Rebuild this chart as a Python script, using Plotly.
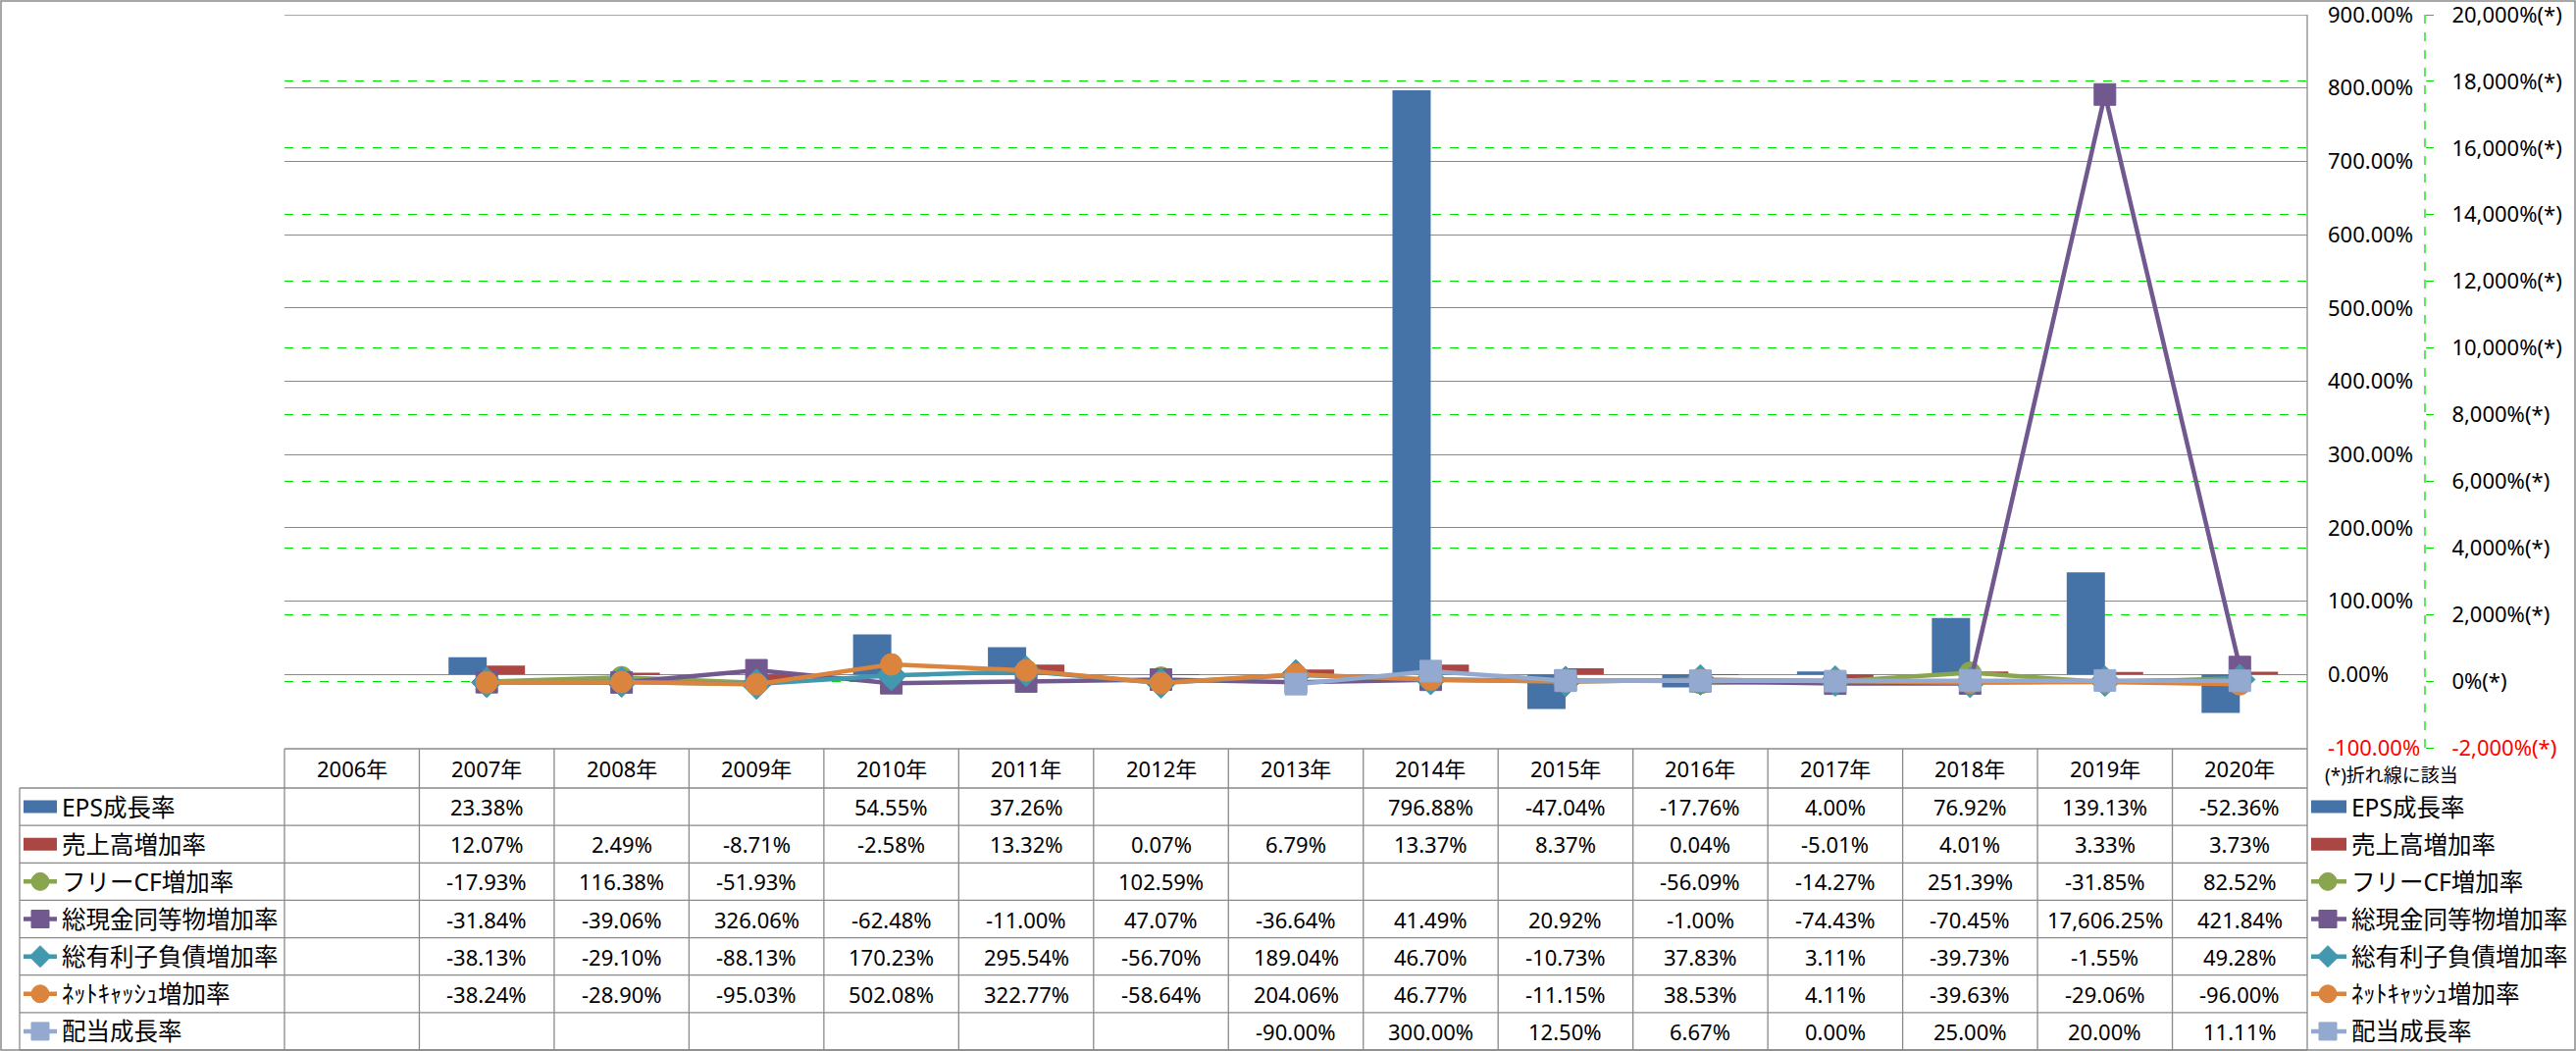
import plotly.graph_objects as go

# ---------------- data ----------------
years = ["2006年", "2007年", "2008年", "2009年", "2010年", "2011年", "2012年", "2013年",
         "2014年", "2015年", "2016年", "2017年", "2018年", "2019年", "2020年"]

eps_growth = [None, 23.38, None, None, 54.55, 37.26, None, None, 796.88, -47.04, -17.76, 4.00, 76.92, 139.13, -52.36]
sales_growth = [None, 12.07, 2.49, -8.71, -2.58, 13.32, 0.07, 6.79, 13.37, 8.37, 0.04, -5.01, 4.01, 3.33, 3.73]
fcf_growth = [None, -17.93, 116.38, -51.93, None, None, 102.59, None, None, None, -56.09, -14.27, 251.39, -31.85, 82.52]
cash_growth = [None, -31.84, -39.06, 326.06, -62.48, -11.00, 47.07, -36.64, 41.49, 20.92, -1.00, -74.43, -70.45, 17606.25, 421.84]
debt_growth = [None, -38.13, -29.10, -88.13, 170.23, 295.54, -56.70, 189.04, 46.70, -10.73, 37.83, 3.11, -39.73, -1.55, 49.28]
netcash_growth = [None, -38.24, -28.90, -95.03, 502.08, 322.77, -58.64, 204.06, 46.77, -11.15, 38.53, 4.11, -39.63, -29.06, -96.00]
dividend_growth = [None, None, None, None, None, None, None, -90.00, 300.00, 12.50, 6.67, 0.00, 25.00, 20.00, 11.11]

series_names = ["EPS成長率", "売上高増加率", "フリーCF増加率", "総現金同等物増加率",
                "総有利子負債増加率", "ﾈｯﾄｷｬｯｼｭ増加率", "配当成長率"]

primary_ticks = [-100, 0, 100, 200, 300, 400, 500, 600, 700, 800, 900]
secondary_ticks = [-2000, 0, 2000, 4000, 6000, 8000, 10000, 12000, 14000, 16000, 18000, 20000]
note_text = "(*)折れ線に該当"

# ---------------- style ----------------
W, H = 2626, 1071
ML, MR, MT, MB = 290, 154, 15, 309
PW = W - ML - MR          # paper width in px
PH = H - MT - MB          # paper height in px
PLOT_RIGHT = 2352
XDOM = (PLOT_RIGHT - ML) / PW

colors = ["#4572A7", "#AA4643", "#89A54E", "#71588F", "#4198AF", "#DB843D", "#93A9CF"]
symbols = [None, None, "circle", "square", "diamond", "circle", "square"]
GRID = "#8A8A8A"
GREEN = "#00E000"
FONT = "Noto Sans, Noto Sans CJK JP"


def px_x(X):
    return (X - ML) / PW


def px_y(Y):
    return (H - MB - Y) / PH


def fmt(v):
    return "" if v is None else f"{v:,.2f}%"


fig = go.Figure()

# bars (primary axis)
for vals, c, n in [(eps_growth, colors[0], series_names[0]), (sales_growth, colors[1], series_names[1])]:
    fig.add_trace(go.Bar(x=years, y=vals, name=n, marker=dict(color=c, line=dict(width=0)),
                         yaxis="y", xaxis="x"))

# lines (secondary axis)
line_data = [fcf_growth, cash_growth, debt_growth, netcash_growth, dividend_growth]
for k, vals in enumerate(line_data):
    i = k + 2
    msize = 24 if symbols[i] == "diamond" else 22
    fig.add_trace(go.Scatter(x=years, y=vals, name=series_names[i], mode="lines+markers",
                             line=dict(color=colors[i], width=4.5),
                             marker=dict(symbol=symbols[i], size=msize, color=colors[i],
                                         line=dict(color=colors[i], width=1)),
                             yaxis="y2", xaxis="x"))


def red(s):
    return f'<span style="color:#FF0000">{s}</span>'


p_text = [red(f"{v:.2f}%") if v < 0 else f"{v:.2f}%" for v in primary_ticks]
s_text = [red(f"{v:,}%(*)") if v < 0 else f"{v:,}%(*)" for v in secondary_ticks]

shapes = []
annotations = []


def hline(y, x0, x1, color=GRID, width=1.3, dash="solid"):
    shapes.append(dict(type="line", xref="paper", yref="paper", x0=px_x(x0), x1=px_x(x1),
                       y0=px_y(y), y1=px_y(y), line=dict(color=color, width=width, dash=dash), layer="above"))


def vline(x, y0, y1, color=GRID, width=1.3, dash="solid"):
    shapes.append(dict(type="line", xref="paper", yref="paper", x0=px_x(x), x1=px_x(x),
                       y0=px_y(y0), y1=px_y(y1), line=dict(color=color, width=width, dash=dash), layer="above"))


# chart border
shapes.append(dict(type="rect", xref="paper", yref="paper", x0=px_x(1), x1=px_x(2625),
                   y0=px_y(1), y1=px_y(1070), line=dict(color=GRID, width=1.5), layer="above"))

# top gridline of plot area (900%)
shapes.append(dict(type="line", xref="paper", yref="y", x0=0, x1=XDOM, y0=900, y1=900,
                   line=dict(color=GRID, width=1.3), layer="below"))

# secondary axis dashed line
vline(2472, 15, 762, color=GREEN, width=1.3, dash="dash")

# table geometry
cat_w = (PLOT_RIGHT - ML) / len(years)
header_top, header_bot = 763, 803
table_bot = 1070
row_h = (table_bot - header_bot) / len(series_names)
label_left = 20

hline(header_top, ML, PLOT_RIGHT)
for r in range(len(series_names) + 1):
    hline(header_bot + r * row_h, label_left, PLOT_RIGHT)
vline(label_left, header_bot, table_bot)
for k in range(len(years) + 1):
    x = ML + k * cat_w
    if k == len(years):
        vline(x, 15, table_bot)
    else:
        vline(x, header_top, table_bot)

# header texts
for k, yname in enumerate(years):
    cx = ML + (k + 0.5) * cat_w
    annotations.append(dict(xref="paper", yref="paper", x=px_x(cx), y=px_y((header_top + header_bot) / 2),
                            text=yname, showarrow=False, xanchor="center", yanchor="middle",
                            font=dict(size=22, color="#000")))

all_series = [eps_growth, sales_growth, fcf_growth, cash_growth, debt_growth, netcash_growth, dividend_growth]


def legend_symbol(i, xl, xr, xm, cy):
    c = colors[i]
    if symbols[i] is None:
        shapes.append(dict(type="rect", xref="paper", yref="paper", x0=px_x(xl), x1=px_x(xr),
                           y0=px_y(cy - 6.5), y1=px_y(cy + 6.5), fillcolor=c, line=dict(width=0),
                           layer="above"))
        return
    shapes.append(dict(type="line", xref="paper", yref="paper", x0=px_x(xl), x1=px_x(xr),
                       y0=px_y(cy), y1=px_y(cy), line=dict(color=c, width=4.5), layer="above"))
    r = 9
    if symbols[i] == "circle":
        shapes.append(dict(type="circle", xref="paper", yref="paper", x0=px_x(xm - r), x1=px_x(xm + r),
                           y0=px_y(cy - r), y1=px_y(cy + r), fillcolor=c, line=dict(color=c, width=1),
                           layer="above"))
    elif symbols[i] == "square":
        shapes.append(dict(type="rect", xref="paper", yref="paper", x0=px_x(xm - r), x1=px_x(xm + r),
                           y0=px_y(cy - r), y1=px_y(cy + r), fillcolor=c, line=dict(color=c, width=1),
                           layer="above"))
    else:
        d = 11
        path = (f"M {px_x(xm)},{px_y(cy - d)} L {px_x(xm + d)},{px_y(cy)} "
                f"L {px_x(xm)},{px_y(cy + d)} L {px_x(xm - d)},{px_y(cy)} Z")
        shapes.append(dict(type="path", xref="paper", yref="paper", path=path, fillcolor=c,
                           line=dict(color=c, width=1), layer="above"))


for r, (name, vals) in enumerate(zip(series_names, all_series)):
    cy = header_bot + (r + 0.5) * row_h
    legend_symbol(r, 24, 58, 41, cy)
    legend_symbol(r, 2356, 2392, 2373, cy)
    annotations.append(dict(xref="paper", yref="paper", x=px_x(61), y=px_y(cy), text=name,
                            showarrow=False, xanchor="left", yanchor="middle",
                            font=dict(size=24.5, color="#000")))
    annotations.append(dict(xref="paper", yref="paper", x=px_x(2395), y=px_y(cy), text=name,
                            showarrow=False, xanchor="left", yanchor="middle",
                            font=dict(size=24.5, color="#000")))
    for k, v in enumerate(vals):
        if v is None:
            continue
        cx = ML + (k + 0.5) * cat_w
        annotations.append(dict(xref="paper", yref="paper", x=px_x(cx), y=px_y(cy), text=fmt(v),
                                showarrow=False, xanchor="center", yanchor="middle",
                                font=dict(size=22, color="#000")))

annotations.append(dict(xref="paper", yref="paper", x=px_x(2368), y=px_y(790), text=note_text,
                        showarrow=False, xanchor="left", yanchor="middle",
                        font=dict(size=19, color="#000")))

fig.update_layout(
    width=W, height=H,
    margin=dict(l=ML, r=MR, t=MT, b=MB, autoexpand=False),
    paper_bgcolor="white", plot_bgcolor="white",
    font=dict(family=FONT, color="#000"),
    showlegend=False,
    barmode="group", bargap=0.433, bargroupgap=0,
    xaxis=dict(domain=[0, XDOM], type="category", range=[-0.5, len(years) - 0.5],
               showticklabels=False, showgrid=False, zeroline=False, showline=False, ticks=""),
    yaxis=dict(range=[-100, 900], tickvals=primary_ticks, ticktext=p_text, side="right", anchor="x",
               showgrid=True, gridcolor=GRID, gridwidth=1.3, zeroline=False, showline=False,
               ticks="", ticklabelstandoff=20, ticklabeloverflow="allow",
               tickfont=dict(size=22, color="#000")),
    yaxis2=dict(range=[-2000, 20000], tickvals=secondary_ticks, ticktext=s_text, overlaying="y",
                side="right", anchor="free", position=1, showgrid=True, gridcolor=GREEN,
                griddash="dash", gridwidth=1.3, zeroline=False, showline=False,
                ticks="outside", ticklen=8, tickcolor=GREEN, tickwidth=1.3, ticklabelstandoff=14,
                ticklabeloverflow="allow", tickfont=dict(size=22, color="#000")),
    shapes=shapes,
    annotations=annotations,
)

fig.write_html("out.html")
